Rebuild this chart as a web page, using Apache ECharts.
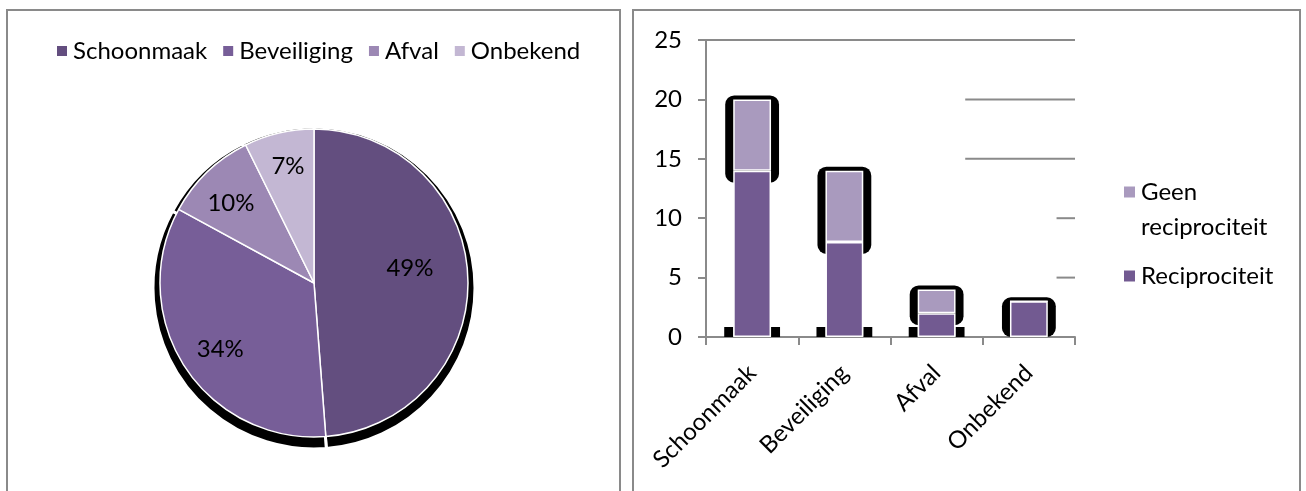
<!DOCTYPE html>
<html>
<head>
<meta charset="utf-8">
<script src="https://cdn.jsdelivr.net/npm/echarts@6/dist/echarts.min.js"></script>
<style>
  html, body { margin: 0; padding: 0; background: #ffffff; }
  #chart { width: 1306px; height: 491px; }
</style>
</head>
<body>
<div id="chart"></div>
<script>
// Sectors (shared by both panels)
const categories = ['Schoonmaak', 'Beveiliging', 'Afval', 'Onbekend'];
// Counts per sector, split by reciprocity
const reciprociteit = [14, 8, 2, 3];
const geenReciprociteit = [6, 6, 2, 0];
// Y-axis tick values of the bar panel
const yTicks = [0, 5, 10, 15, 20, 25];

const pieColors = ['#634e7f', '#775e98', '#9c88b4', '#c3b7d3'];
const recColor = '#725a91';
const geenColor = '#a99abe';
const axisGray = '#8a8a8a';
const FONT = 'Lato';

// Pie totals per sector = sum of both groups
const pieData = categories.map((c, i) => ({
  name: c,
  value: reciprociteit[i] + geenReciprociteit[i]
}));
const pieTotal = pieData.reduce((s, d) => s + d.value, 0);

// Horizontal gridline runs: [level, start position on the band axis (0..4)]
const gridRuns = [[25, 0], [20, 2.81], [15, 2.81], [10, 3.8], [5, 3.8]];

// Small nudges of the percentage labels (label styling only)
const labelNudge = [[-18, -10], [2, 4], [-4, 2], [0, -6]];

const chart = echarts.init(document.getElementById('chart'), null, { renderer: 'canvas' });

const option = {
  animation: false,
  backgroundColor: '#ffffff',
  textStyle: { fontFamily: FONT },
  graphic: [
    { type: 'rect', shape: { x: 7, y: 10, width: 613, height: 500 },
      style: { fill: 'none', stroke: axisGray, lineWidth: 2 }, silent: true },
    { type: 'rect', shape: { x: 633, y: 10, width: 667, height: 500 },
      style: { fill: 'none', stroke: axisGray, lineWidth: 2 }, silent: true }
  ],
  legend: [
    {
      data: categories,
      left: 50, top: 34,
      icon: 'rect', itemWidth: 12, itemHeight: 12, itemGap: 14,
      textStyle: { fontFamily: FONT, fontSize: 24, color: '#000' }
    },
    {
      data: ['Geen reciprociteit', 'Reciprociteit'],
      orient: 'vertical',
      left: 1117, top: 140,
      icon: 'rect', itemWidth: 13, itemHeight: 13, itemGap: 25,
      formatter: n => n === 'Geen reciprociteit'
        ? '{pad| }\n{t|Geen}\n{t|reciprociteit}'
        : '{t|' + n + '}',
      textStyle: {
        fontFamily: FONT, fontSize: 24, color: '#000',
        rich: {
          t: { fontFamily: FONT, fontSize: 24, color: '#000', lineHeight: 35 },
          pad: { fontSize: 24, lineHeight: 35 }
        }
      }
    }
  ],
  grid: [{ left: 706, top: 40, width: 369, height: 297 }],
  xAxis: [
    {
      type: 'category', data: categories, gridIndex: 0,
      boundaryGap: true,
      axisLine: { lineStyle: { color: axisGray, width: 2 } },
      axisTick: { show: true, length: 8, alignWithLabel: false, lineStyle: { color: axisGray, width: 2 } },
      axisLabel: { rotate: 45, margin: 32, fontFamily: FONT, fontSize: 24, color: '#000', interval: 0 },
      splitLine: { show: false }
    },
    { type: 'value', gridIndex: 0, min: 0, max: categories.length, show: false }
  ],
  yAxis: [{
    type: 'value', gridIndex: 0,
    min: yTicks[0], max: yTicks[yTicks.length - 1], interval: yTicks[1] - yTicks[0],
    axisLine: { show: true, lineStyle: { color: axisGray, width: 2 } },
    axisTick: { show: true, length: 8, lineStyle: { color: axisGray, width: 2 } },
    axisLabel: { margin: 24, fontFamily: FONT, fontSize: 24, color: '#000' },
    splitLine: { show: false }
  }],
  series: [
    // Pie: sector shares
    {
      type: 'pie', name: 'Sectoren',
      center: [314, 283], radius: 154,
      startAngle: 90, clockwise: true,
      z: 3,
      data: pieData.map((d, i) => ({ ...d, itemStyle: { color: pieColors[i] } })),
      itemStyle: { borderColor: '#ffffff', borderWidth: 1.5 },
      label: { show: false },
      labelLine: { show: false }
    },
    // Hard drop shadow under the pie
    {
      type: 'pie', name: 'Schaduw', silent: true,
      center: [314, 288], radius: 161,
      startAngle: 90, clockwise: true,
      z: 1,
      data: pieData.map(d => ({ ...d })),
      itemStyle: { color: '#000000', borderColor: '#ffffff', borderWidth: 3 },
      label: { show: false }, labelLine: { show: false }
    },
    // Percentage labels
    {
      type: 'pie', name: 'Labels', silent: true,
      center: [314, 283], radius: 222,
      startAngle: 90, clockwise: true,
      z: 5,
      data: pieData.map(d => ({ ...d })),
      itemStyle: { color: 'rgba(0,0,0,0)' },
      label: {
        show: true, position: 'inside',
        formatter: p => Math.round(p.value / pieTotal * 100) + '%',
        fontFamily: FONT, fontSize: 24, color: '#000'
      },
      labelLayout: p => ({ dx: labelNudge[p.dataIndex][0], dy: labelNudge[p.dataIndex][1] }),
      labelLine: { show: false }
    },
    // Bars
    {
      type: 'bar', name: 'Reciprociteit', stack: 'totaal',
      xAxisIndex: 0, yAxisIndex: 0,
      barWidth: '41%', z: 4,
      data: reciprociteit,
      itemStyle: { color: recColor, borderColor: '#ffffff', borderWidth: 1.5 }
    },
    {
      type: 'bar', name: 'Geen reciprociteit', stack: 'totaal',
      xAxisIndex: 0, yAxisIndex: 0,
      barWidth: '41%', z: 4,
      data: geenReciprociteit,
      itemStyle: { color: geenColor, borderColor: '#ffffff', borderWidth: 1.5 }
    },
    // Black shadow around the top segment of each stack
    {
      type: 'custom', name: 'Balkschaduw', silent: true,
      xAxisIndex: 0, yAxisIndex: 0, z: 2,
      data: categories.map((c, i) => [i, reciprociteit[i], geenReciprociteit[i]]),
      encode: { x: 0, y: 1 },
      renderItem: (params, api) => {
        const i = api.value(0);
        const rec = api.value(1);
        const geen = api.value(2);
        const total = rec + geen;
        const topBase = geen > 0 ? rec : 0;
        const pTop = api.coord([i, total]);
        const pBase = api.coord([i, topBase]);
        const pZero = api.coord([i, 0]);
        const barW = api.size([1, 0])[0] * 0.41;
        const x0 = pTop[0] - barW / 2;
        const children = [];
        const y1 = pTop[1] - 4;
        const y2 = Math.min(pBase[1] + 12, pZero[1]);
        children.push({
          type: 'rect',
          shape: { x: x0 - 8, y: y1, width: barW + 16, height: y2 - y1, r: 9 },
          style: { fill: '#000000' }
        });
        if (geen > 0 && rec > 0) {
          children.push({ type: 'rect', shape: { x: x0 - 9, y: pZero[1] - 10, width: 9, height: 10 }, style: { fill: '#000' } });
          children.push({ type: 'rect', shape: { x: x0 + barW, y: pZero[1] - 10, width: 9, height: 10 }, style: { fill: '#000' } });
        }
        return { type: 'group', children };
      }
    },
    // Visible gridline runs
    ...gridRuns.map(([level, start]) => ({
      type: 'line', name: 'raster' + level, silent: true,
      xAxisIndex: 1, yAxisIndex: 0, z: 1,
      symbol: 'none',
      data: [[start, level], [categories.length, level]],
      lineStyle: { color: axisGray, width: 2 }
    }))
  ]
};

chart.setOption(option);
</script>
</body>
</html>
